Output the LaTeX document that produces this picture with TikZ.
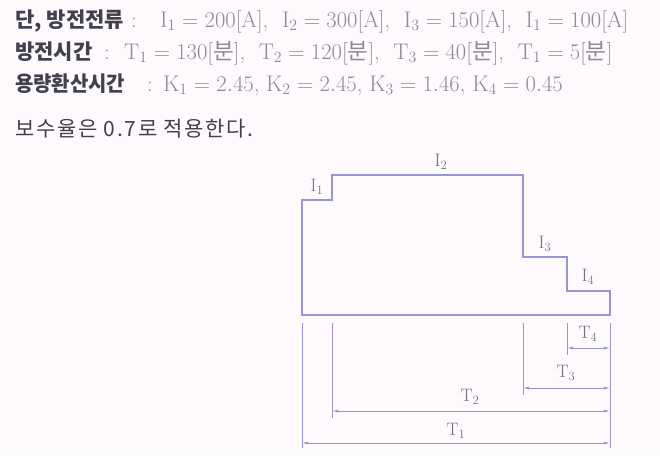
\RequirePackage{fix-cm}
\documentclass[tikz,border=0pt]{standalone}
\usepackage{fontspec}
\newfontfamily\kr{Noto Sans CJK KR}
\newfontfamily\krs{Noto Sans CJK KR}[LetterSpace=8]
\usetikzlibrary{arrows.meta}
\definecolor{bg}{RGB}{253,249,252}
\definecolor{ln}{RGB}{150,150,210}
\definecolor{lbl}{RGB}{115,115,125}
\definecolor{dark}{RGB}{65,65,78}
\definecolor{gry}{RGB}{140,140,148}
\begin{document}
\begin{tikzpicture}[x=1pt,y=-1pt,
  hd/.style={anchor=base west, inner sep=0pt, font=\fontsize{22.6}{26}\selectfont, text=gry},
  key/.style={anchor=base west, inner sep=0pt, font=\fontsize{21}{24}\selectfont\kr\bfseries, text=dark},
  colon/.style={anchor=base west, inner sep=0pt, font=\fontsize{22}{26}\selectfont, text=gry},
  lab/.style={inner sep=0pt, font=\fontsize{18}{20}\selectfont, text=lbl},
  outline/.style={draw=ln, line width=1.3pt},
  ext/.style={draw=ln, line width=0.9pt},
  dim/.style={draw=ln, line width=0.9pt, {Latex[length=6pt,width=3pt]}-{Latex[length=6pt,width=3pt]}}]
\fill[bg] (0,0) rectangle (660,455);
\useasboundingbox (0,0) rectangle (660,455);
% header text
\node[key] (l1k) at (15,27) {단, 방전전류};
\node[colon] (l1c) at (131,27) {:};
\node[hd] (l1m) at (160,27) {$\mathrm{I}_1=200$[A], \ $\mathrm{I}_2=300$[A], \ $\mathrm{I}_3=150$[A], \ $\mathrm{I}_1=100$[A]};
\node[key] (l2k) at (15,59) {방전시간};
\node[colon] (l2c) at (104,59) {:};
\node[hd] (l2m) at (124,59) {$\mathrm{T}_1=130$[{\kr 분}], \ $\mathrm{T}_2=120$[{\kr 분}], \ $\mathrm{T}_3=40$[{\kr 분}], \ $\mathrm{T}_1=5$[{\kr 분}]};
\node[key, xscale=0.95] (l3k) at (15,91) {용량환산시간};
\node[colon] (l3c) at (147,91) {:};
\node[hd] (l3m) at (163,91) {$\mathrm{K}_1=2.45$, $\mathrm{K}_2=2.45$, $\mathrm{K}_3=1.46$, $\mathrm{K}_4=0.45$};
\node[hd, font=\fontsize{21}{24}\selectfont\krs, text=dark] (l4) at (15,136) {보수율은 0.7로 적용한다.};
% step profile
\coordinate (A) at (302,315);
\coordinate (B) at (302,200);
\coordinate (C) at (332,200);
\coordinate (D) at (332,175);
\coordinate (E) at (523,175);
\coordinate (F) at (523,257);
\coordinate (G) at (567,257);
\coordinate (H) at (567,291);
\coordinate (J) at (610,291);
\coordinate (K) at (610,315);
\draw[outline] (A) -- (B) -- (C) -- (D) -- (E) -- (F) -- (G) -- (H) -- (J) -- (K) -- cycle;
\node[lab] (i1) at (317,187) {I$_1$};
\node[lab] (i2) at (441,162) {I$_2$};
\node[lab] (i3) at (545,244) {I$_3$};
\node[lab] (i4) at (588,277) {I$_4$};
% extension lines
\coordinate (e1a) at (302,323); \coordinate (e1b) at (302,448);
\coordinate (e2a) at (332,323); \coordinate (e2b) at (332,418);
\coordinate (e3a) at (523,323); \coordinate (e3b) at (523,395);
\coordinate (e4a) at (567,323); \coordinate (e4b) at (567,355);
\coordinate (e5a) at (610,323); \coordinate (e5b) at (610,448);
\draw[ext] (e1a) -- (e1b);
\draw[ext] (e2a) -- (e2b);
\draw[ext] (e3a) -- (e3b);
\draw[ext] (e4a) -- (e4b);
\draw[ext] (e5a) -- (e5b);
% dimension arrows
\coordinate (t4a) at (567,348); \coordinate (t4b) at (610,348);
\coordinate (t3a) at (523,388); \coordinate (t3b) at (610,388);
\coordinate (t2a) at (332,411); \coordinate (t2b) at (610,411);
\coordinate (t1a) at (302,443); \coordinate (t1b) at (610,443);
\draw[dim] (t4a) -- (t4b);
\draw[dim] (t3a) -- (t3b);
\draw[dim] (t2a) -- (t2b);
\draw[dim] (t1a) -- (t1b);
\node[lab] (T4) at (588,334) {T$_4$};
\node[lab] (T3) at (566,373) {T$_3$};
\node[lab] (T2) at (470,397) {T$_2$};
\node[lab] (T1) at (456,431) {T$_1$};
\end{tikzpicture}
\end{document}
